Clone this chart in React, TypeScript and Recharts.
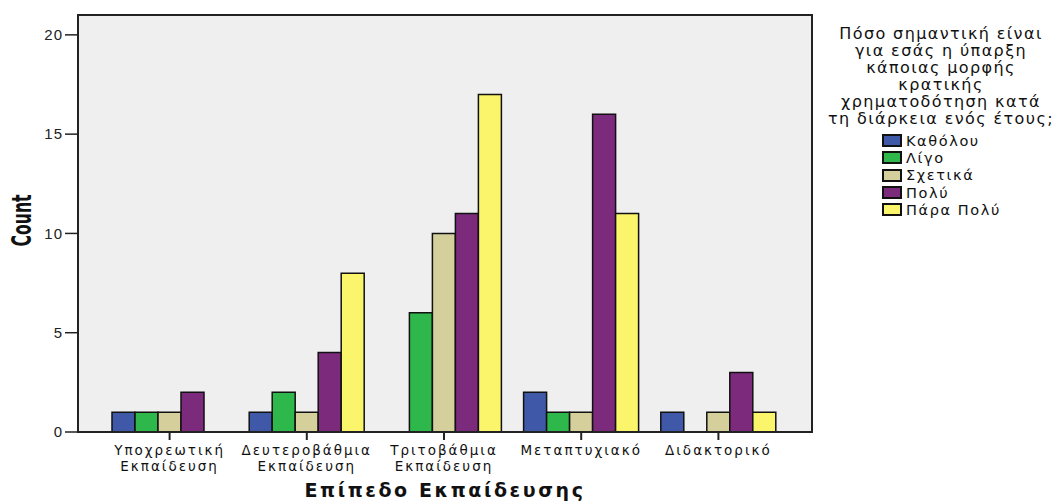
import { BarChart, Bar, XAxis, YAxis } from "recharts"

const categories = [
  ["Υποχρεωτική", "Εκπαίδευση"],
  ["Δευτεροβάθμια", "Εκπαίδευση"],
  ["Τριτοβάθμια", "Εκπαίδευση"],
  ["Μεταπτυχιακό"],
  ["Διδακτορικό"],
]

const seriesNames = ["Καθόλου", "Λίγο", "Σχετικά", "Πολύ", "Πάρα Πολύ"]
const seriesColors = ["#3f59a8", "#2eb74a", "#d4cf9b", "#7c2a7c", "#fbf56c"]

const katholou = [1, 1, 0, 2, 1]
const ligo = [1, 2, 6, 1, 0]
const schetika = [1, 1, 10, 1, 1]
const poly = [2, 4, 11, 16, 3]
const paraPoly = [0, 8, 17, 11, 1]

const yTicks = [0, 5, 10, 15, 20]

const legendTitle = [
  "Πόσο σημαντική είναι",
  "για εσάς η ύπαρξη",
  "κάποιας μορφής",
  "κρατικής",
  "χρηματοδότηση κατά",
  "τη διάρκεια ενός έτους;",
]

const seriesValues = [katholou, ligo, schetika, poly, paraPoly]

const data = categories.map((c, i) => {
  const row: Record<string, any> = { name: c.join(" "), idx: i }
  seriesNames.forEach((s, j) => {
    row[s] = seriesValues[j][i]
  })
  return row
})

const font = "'DejaVu Sans', Arial, sans-serif"

function CategoryTick(props: any) {
  const { x, y, payload } = props
  const lines = categories[payload.index] ?? [payload.value]
  return (
    <g>
      {lines.map((l, i) => (
        <text
          key={i}
          x={x}
          y={y + 13 + i * 16}
          textAnchor="middle"
          fontSize={13.5}
          fontFamily={font}
          letterSpacing={2}
          fill="#111"
        >
          {l}
        </text>
      ))}
    </g>
  )
}

function CountLabel(props: any) {
  const { viewBox } = props
  const cx = 22
  const cy = viewBox.y + viewBox.height / 2 - 3
  return (
    <text
      x={cx}
      y={cy}
      transform={`rotate(-90 ${cx} ${cy})`}
      textAnchor="middle"
      dominantBaseline="central"
      fontSize={26}
      fontWeight="bold"
      fontFamily="'DejaVu Sans Condensed', 'Liberation Sans Narrow', sans-serif"
      textLength={52}
      lengthAdjust="spacingAndGlyphs"
      fill="#111"
    >
      Count
    </text>
  )
}

function LegendBox() {
  return (
    <div style={{ position: "absolute", left: 820, top: 25, fontFamily: font, color: "#111", width: 242 }}>
      <div style={{ textAlign: "center", fontSize: 16, lineHeight: "17px", letterSpacing: 1.4 }}>
        {legendTitle.map((t, i) => (
          <div key={i}>{t}</div>
        ))}
      </div>
      <div style={{ marginTop: 5, marginLeft: 62 }}>
        {seriesNames.map((s, i) => (
          <div key={s} style={{ display: "flex", alignItems: "center", height: 17.3, fontSize: 14.5, letterSpacing: 1.6 }}>
            <span
              style={{
                display: "inline-block",
                boxSizing: "border-box",
                width: 20,
                height: 13,
                background: seriesColors[i],
                border: "2px solid #111",
                marginRight: 4,
              }}
            />
            {s}
          </div>
        ))}
      </div>
    </div>
  )
}

export default function App() {
  return (
    <div style={{ position: "absolute", left: 0, top: 0, width: 1062, height: 501, background: "#fff" }}>
      <BarChart
        width={1062}
        height={501}
        data={data}
        margin={{ top: 15, right: 250, left: 0, bottom: 0 }}
        barGap={0}
        barCategoryGap={11}
      >
        <rect x={78} y={15} width={734} height={417} fill="#efefef" stroke="#222" strokeWidth={2} />
        <XAxis
          dataKey="name"
          height={69}
          interval={0}
          padding={{ left: 23, right: 25 }}
          axisLine={{ stroke: "#222", strokeWidth: 2 }}
          tickLine={{ stroke: "#222", strokeWidth: 2 }}
          tickSize={8}
          tick={<CategoryTick />}
          label={{
            value: "Επίπεδο Εκπαίδευσης",
            position: "insideBottom",
            offset: 4,
            fontSize: 19,
            fontWeight: "bold",
            fontFamily: font,
            letterSpacing: 2.6,
            fill: "#111",
          }}
        />
        <YAxis
          width={78}
          domain={[0, 21]}
          ticks={yTicks}
          interval={0}
          axisLine={{ stroke: "#222", strokeWidth: 2 }}
          tickLine={{ stroke: "#222", strokeWidth: 1.5 }}
          tickSize={13}
          tickMargin={2}
          tick={{ fontSize: 15, fontFamily: "Arial, 'Liberation Sans', sans-serif", fill: "#222", letterSpacing: 1 }}
          label={<CountLabel />}
        />
        {seriesNames.map((s, i) => (
          <Bar
            key={s}
            dataKey={s}
            fill={seriesColors[i]}
            stroke="#111"
            strokeWidth={1.5}
            isAnimationActive={false}
          />
        ))}
      </BarChart>
      <LegendBox />
    </div>
  )
}
